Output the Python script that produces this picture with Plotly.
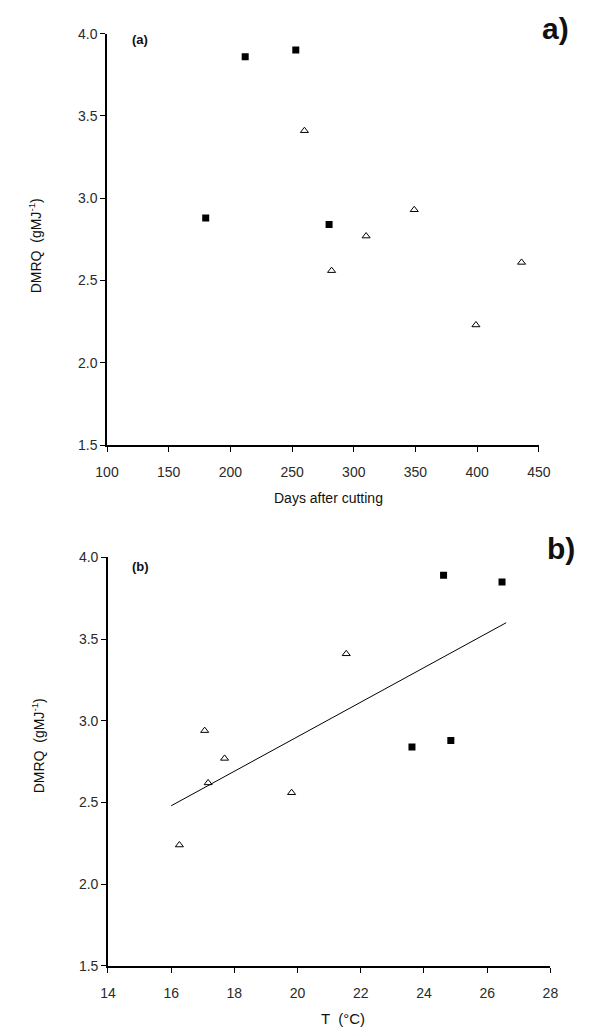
import plotly.graph_objects as go

W, H = 595, 1035

# Panel (a): DMRQ vs days after cutting
a_sq_days = [180, 212, 253, 280]
a_sq_dmrq = [2.88, 3.86, 3.90, 2.84]
a_tri_days = [260, 282, 310, 349, 399, 436]
a_tri_dmrq = [3.41, 2.56, 2.77, 2.93, 2.23, 2.61]

# Panel (b): DMRQ vs temperature
b_sq_temp = [23.62, 24.62, 24.85, 26.47]
b_sq_dmrq = [2.84, 3.89, 2.88, 3.85]
b_tri_temp = [16.26, 17.06, 17.17, 17.69, 19.81, 21.54]
b_tri_dmrq = [2.24, 2.94, 2.62, 2.77, 2.56, 3.41]
fit_temp = [16.0, 26.6]
fit_dmrq = [2.48, 3.60]

y_ticks = [1.5, 2.0, 2.5, 3.0, 3.5, 4.0]
a_x_ticks = [100, 150, 200, 250, 300, 350, 400, 450]
b_x_ticks = [14, 16, 18, 20, 22, 24, 26, 28]

def px(x):
    return x / W

def py(y):
    return 1 - y / H

fig = go.Figure()

sq = dict(symbol="square", size=7, color="black", line=dict(width=0))
tri = dict(symbol="triangle-up-open", size=7, color="black", line=dict(width=1, color="black"))

fig.add_trace(go.Scatter(x=a_sq_days, y=a_sq_dmrq, mode="markers", marker=sq, xaxis="x", yaxis="y", showlegend=False))
fig.add_trace(go.Scatter(x=a_tri_days, y=a_tri_dmrq, mode="markers", marker=tri, xaxis="x", yaxis="y", showlegend=False))

fig.add_trace(go.Scatter(x=fit_temp, y=fit_dmrq, mode="lines", line=dict(color="black", width=1), xaxis="x2", yaxis="y2", showlegend=False))
fig.add_trace(go.Scatter(x=b_sq_temp, y=b_sq_dmrq, mode="markers", marker=sq, xaxis="x2", yaxis="y2", showlegend=False))
fig.add_trace(go.Scatter(x=b_tri_temp, y=b_tri_dmrq, mode="markers", marker=tri, xaxis="x2", yaxis="y2", showlegend=False))

font = "Liberation Sans, Arial, sans-serif"
tickfont = dict(family=font, size=14, color="#2a2a2a")
common = dict(showgrid=False, zeroline=False, showline=True, linecolor="black", linewidth=1.5,
              ticks="outside", ticklen=5, tickwidth=1, tickcolor="black", tickfont=tickfont)

fig.update_layout(
    width=W, height=H,
    margin=dict(l=0, r=0, t=0, b=0),
    paper_bgcolor="white", plot_bgcolor="white",
    xaxis=dict(domain=[px(99), px(549)], range=[100, 450], tickvals=a_x_ticks, anchor="y",
               ticklabelstandoff=8, **common),
    yaxis=dict(domain=[py(444), py(26)], range=[1.5, 4.0], tickvals=y_ticks, tickformat=".1f", anchor="x", **common),
    xaxis2=dict(domain=[px(100), px(561)], range=[14, 28], tickvals=b_x_ticks, anchor="y2",
                ticklabelstandoff=8, **common),
    yaxis2=dict(domain=[py(973), py(558)], range=[1.5, 4.0], tickvals=y_ticks, tickformat=".1f", anchor="x2", **common),
)

ann = []
def add(text, x, y, size, bold=False, angle=0, xanchor="center", yanchor="middle"):
    ann.append(dict(text=(f"<b>{text}</b>" if bold else text), x=px(x), y=py(y), xref="paper", yref="paper",
                    showarrow=False, textangle=angle, xanchor=xanchor, yanchor=yanchor,
                    font=dict(family=font, size=size, color="#111")))

add("a)", 566, 21, 30, bold=True)
add("b)", 572, 549, 30, bold=True)
add("(a)", 123, 32, 13, bold=True, xanchor="left")
add("(b)", 123, 567, 13, bold=True, xanchor="left")
add("DMRQ  (gMJ<sup>-1</sup>)", 24, 242, 14, angle=-90)
add("DMRQ  (gMJ<sup>-1</sup>)", 28, 749, 14, angle=-90)
add("Days after cutting", 330, 498, 14)
add("T  (°C)", 345, 1026, 15)
fig.update_layout(annotations=ann)

fig.write_html("out.html")
